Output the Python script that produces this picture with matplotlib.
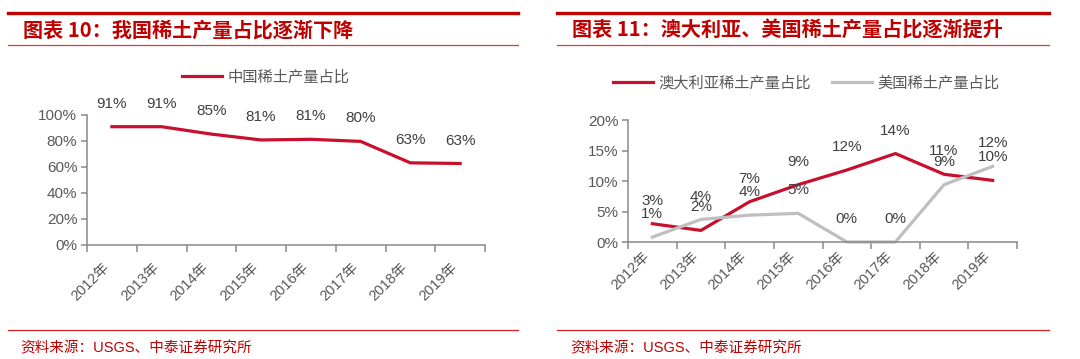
import numpy as np
import matplotlib
matplotlib.use("Agg")
import matplotlib.pyplot as plt
from matplotlib.ticker import PercentFormatter, FixedLocator
from matplotlib.lines import Line2D

plt.rcParams['font.family'] = ['Liberation Sans', 'Noto Sans CJK SC']

# data
years = ['2012年', '2013年', '2014年', '2015年', '2016年', '2017年', '2018年', '2019年']
china_share = [0.91, 0.91, 0.853, 0.808, 0.813, 0.797, 0.632, 0.627]
aus_share = [0.030, 0.019, 0.066, 0.094, 0.118, 0.145, 0.111, 0.101]
us_share = [0.008, 0.037, 0.044, 0.047, 0.0, 0.0, 0.094, 0.124]

title_left = '图表 10：我国稀土产量占比逐渐下降'
title_right = '图表 11：澳大利亚、美国稀土产量占比逐渐提升'
source = '资料来源：USGS、中泰证券研究所'

RED_LINE = '#C8102E'
GREY_LINE = '#BFBFBF'
TITLE_RED = '#C00000'
AXIS_GREY = '#898989'
TICK_TXT = '#595959'
LABEL_TXT = '#404040'

fig = plt.figure(figsize=(10.8, 3.59), dpi=100)
W, H = 1080, 359


def fx(px):
    return px / W


def fy(py):
    return 1 - py / H


def frame(x0, x1, tx, sx):
    # red rules round the title and the source
    fig.add_artist(Line2D([fx(x0), fx(x1)], [fy(12.5), fy(12.5)], color=TITLE_RED, lw=2.4))
    fig.add_artist(Line2D([fx(x0), fx(x1)], [fy(45), fy(45)], color='#D04040', lw=0.9))
    fig.add_artist(Line2D([fx(x0), fx(x1)], [fy(330), fy(330)], color='#E02020', lw=0.9))


def setup_axis(ax, ymax, ystep):
    ax.set_xlim(-0.5, len(years) - 0.5)
    ax.set_ylim(0, ymax)
    ax.set_yticks(np.arange(0, ymax + 1e-9, ystep))
    ax.yaxis.set_major_formatter(PercentFormatter(1.0, decimals=0))
    ax.set_xticks(range(len(years)))
    ax.set_xticklabels(years, rotation=45, ha='right', fontsize=10.5, color=TICK_TXT)
    ax.xaxis.set_minor_locator(FixedLocator(np.arange(-0.5, len(years), 1.0)))
    ax.tick_params(axis='x', which='major', length=0)
    ax.tick_params(axis='x', which='minor', length=5, width=1.1, color=AXIS_GREY, direction='out')
    ax.tick_params(axis='y', length=4, width=1.1, color=AXIS_GREY, labelsize=11, labelcolor=TICK_TXT, pad=3)
    for s in ['top', 'right']:
        ax.spines[s].set_visible(False)
    for s in ['left', 'bottom']:
        ax.spines[s].set_color(AXIS_GREY)
        ax.spines[s].set_linewidth(1.1)
    ax.set_facecolor('none')


def add_labels(ax, vals):
    for i, v in enumerate(vals):
        ax.annotate('{:.0f}%'.format(v * 100), (i, v), xytext=(0, 16.5), textcoords='offset points',
                    ha='center', va='center', fontsize=11, color=LABEL_TXT)


# ---- left chart
frame(8, 518, 23, 20)
fig.text(fx(23), fy(30), title_left, fontsize=14.5, fontweight='bold', color=TITLE_RED, va='center',
         family=['Noto Sans CJK SC'])
fig.text(fx(20), fy(348), source, fontsize=10.5, color=TITLE_RED, va='center')

ax1 = fig.add_axes([fx(87), fy(245), fx(485) - fx(87), fy(115) - fy(245)])
setup_axis(ax1, 1.0, 0.2)
ax1.tick_params(axis='x', which='major', pad=11)
ln1, = ax1.plot(range(len(years)), china_share, color=RED_LINE, lw=2.3, solid_joinstyle='round',
                label='中国稀土产量占比', clip_on=False)
add_labels(ax1, china_share)
fig.legend(handles=[ln1], loc='center', bbox_to_anchor=(fx(266), fy(77)), frameon=False,
           handlelength=2.6, handletextpad=0.35, borderpad=0, fontsize=11, labelcolor=TICK_TXT)

# ---- right chart
frame(557, 1049, 572, 570)
fig.text(fx(572), fy(30), title_right, fontsize=14.5, fontweight='bold', color=TITLE_RED, va='center',
         family=['Noto Sans CJK SC'])
fig.text(fx(570), fy(348), source, fontsize=10.5, color=TITLE_RED, va='center')

ax2 = fig.add_axes([fx(628), fy(242), fx(1017) - fx(628), fy(120) - fy(242)])
setup_axis(ax2, 0.20, 0.05)
ax2.tick_params(axis='x', which='major', pad=5)
ln2, = ax2.plot(range(len(years)), aus_share, color=RED_LINE, lw=2.3, solid_joinstyle='round',
                label='澳大利亚稀土产量占比', clip_on=False)
ln3, = ax2.plot(range(len(years)), us_share, color=GREY_LINE, lw=2.3, solid_joinstyle='round',
                label='美国稀土产量占比', clip_on=False)
add_labels(ax2, aus_share)
add_labels(ax2, us_share)
fig.legend(handles=[ln2, ln3], loc='center', bbox_to_anchor=(fx(806), fy(83)), frameon=False, ncol=2,
           handlelength=2.6, handletextpad=0.35, columnspacing=1.4, borderpad=0, fontsize=11,
           labelcolor=TICK_TXT)

fig.savefig('out.png', dpi=100)
